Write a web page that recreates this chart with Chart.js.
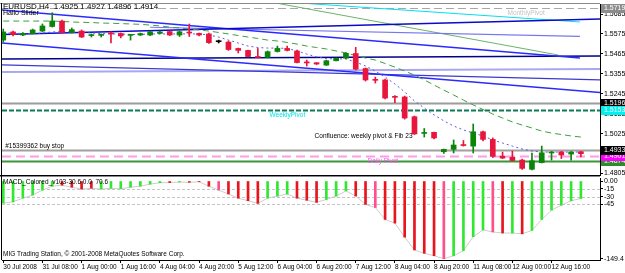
<!DOCTYPE html>
<html>
<head>
<meta charset="utf-8">
<script src="https://cdn.jsdelivr.net/npm/chart.js@4.4.0/dist/chart.umd.min.js"></script>
<style>
  html, body { margin: 0; padding: 0; background: #fff; }
  #wrap { position: relative; width: 625px; height: 273px; overflow: hidden; }
  canvas { position: absolute; left: 0; }
  #price { top: 0; }
  #macd { top: 177px; }
</style>
</head>
<body>
<div id="wrap">
  <canvas id="price" width="625" height="177"></canvas>
  <canvas id="macd" width="625" height="96"></canvas>
</div>
<script>
// EURUSD H4 candles, 60 bars (30 Jul .. 12 Aug 2008)
const opens = [1.5541,1.5586,1.5569,1.5577,1.5591,1.5616,1.5646,1.5583,1.5591,1.5566,
  1.5567,1.5577,1.5577,1.5567,1.5569,1.5569,1.5578,1.5588,1.5569,1.5584,
  1.5578,1.5575,1.5532,1.5530,1.5495,1.5484,1.5448,1.5446,1.5478,1.5495,
  1.5481,1.5417,1.5416,1.5403,1.5427,1.5441,1.5467,1.5384,1.5322,1.5321,
  1.5228,1.5227,1.5118,1.5026,1.5032,1.4925,1.4938,1.4962,1.4956,1.5035,
  1.4993,1.4901,1.4894,1.4879,1.4828,1.4865,1.4918,1.4924,1.4912,1.4925];
const highs = [1.5602,1.5591,1.5583,1.5602,1.5630,1.5692,1.5652,1.5608,1.5597,1.5575,
  1.5575,1.5586,1.5580,1.5572,1.5580,1.5591,1.5591,1.5591,1.5591,1.5630,
  1.5580,1.5580,1.5541,1.5536,1.5497,1.5486,1.5495,1.5481,1.5508,1.5508,
  1.5486,1.5431,1.5417,1.5431,1.5442,1.5472,1.5501,1.5387,1.5337,1.5326,
  1.5235,1.5232,1.5122,1.5053,1.5034,1.4940,1.4990,1.4987,1.5078,1.5039,
  1.5001,1.4923,1.4929,1.4885,1.4918,1.4956,1.4926,1.4926,1.4926,1.4927];
const lows = [1.5530,1.5564,1.5566,1.5575,1.5588,1.5613,1.5580,1.5580,1.5555,1.5558,
  1.5558,1.5525,1.5553,1.5541,1.5566,1.5566,1.5575,1.5566,1.5561,1.5561,
  1.5564,1.5522,1.5525,1.5484,1.5470,1.5448,1.5442,1.5442,1.5475,1.5481,
  1.5415,1.5398,1.5406,1.5401,1.5426,1.5439,1.5376,1.5315,1.5304,1.5216,
  1.5195,1.5105,1.5020,1.5006,1.4995,1.4915,1.4918,1.4956,1.4918,1.4984,
  1.4893,1.4887,1.4874,1.4827,1.4824,1.4863,1.4879,1.4887,1.4879,1.4896];
const closes = [1.5586,1.5572,1.5577,1.5597,1.5619,1.5646,1.5583,1.5599,1.5558,1.5569,
  1.5570,1.5575,1.5564,1.5570,1.5577,1.5587,1.5586,1.5569,1.5587,1.5580,
  1.5569,1.5527,1.5532,1.5489,1.5484,1.5450,1.5445,1.5477,1.5495,1.5484,
  1.5417,1.5415,1.5409,1.5427,1.5441,1.5468,1.5381,1.5321,1.5319,1.5221,
  1.5225,1.5111,1.5023,1.5029,1.5001,1.4938,1.4962,1.4959,1.5035,1.4993,
  1.4899,1.4890,1.4876,1.4833,1.4875,1.4919,1.4920,1.4907,1.4923,1.4914];

// moving averages
const fastMA = [1.5580,1.5580,1.5577,1.5577,1.5580,1.5586,1.5588,1.5586,1.5583,1.5580,
  1.5577,1.5575,1.5575,1.5572,1.5572,1.5575,1.5575,1.5575,1.5575,1.5575,
  1.5575,1.5569,1.5558,1.5541,1.5525,1.5508,1.5500,1.5497,1.5497,1.5495,
  1.5481,1.5464,1.5448,1.5439,1.5437,1.5437,1.5420,1.5398,1.5370,1.5337,
  1.5299,1.5255,1.5205,1.5166,1.5128,1.5095,1.5067,1.5045,1.5028,1.5012,
  1.4990,1.4973,1.4956,1.4940,1.4929,1.4923,1.4923,1.4923,1.4923,1.4923];
const slowMA = [1.5646,1.5646,1.5646,1.5646,1.5646,1.5646,1.5644,1.5641,1.5639,1.5638,
  1.5635,1.5634,1.5632,1.5630,1.5628,1.5624,1.5619,1.5613,1.5608,1.5602,
  1.5597,1.5591,1.5583,1.5575,1.5566,1.5558,1.5550,1.5541,1.5536,1.5528,
  1.5519,1.5508,1.5500,1.5492,1.5481,1.5470,1.5456,1.5442,1.5431,1.5412,
  1.5392,1.5370,1.5348,1.5321,1.5293,1.5265,1.5238,1.5210,1.5183,1.5158,
  1.5133,1.5111,1.5089,1.5072,1.5056,1.5039,1.5028,1.5020,1.5012,1.5006];

// trendlines: [bar1, price1, bar2, price2]
const trendLines = [
  [-0.13, 1.5572, 60.95, 1.5657],
  [-0.13, 1.5707, 58.9, 1.5442],
  [-0.13, 1.5525, 60.95, 1.5252],
  [-0.13, 1.5437, 60.95, 1.5453],
  [-0.13, 1.5404, 60.95, 1.5321],
  [-0.13, 1.5365, 60.95, 1.5381],
  [15, 1.5612, 58.9, 1.5561],
  [27.2, 1.5757, 58.9, 1.5641],
  [26.7, 1.5757, 56.66, 1.5459]
];
const trendStyles = [
  { color: '#0a0ac8', width: 1.5 },
  { color: '#2a2aff', width: 1.5 },
  { color: '#2a2aff', width: 1.5 },
  { color: '#00008b', width: 1.5 },
  { color: '#3a3ad0', width: 1.2 },
  { color: '#a8a8f0', width: 2 },
  { color: '#7676f0', width: 1.2 },
  { color: '#00e0f0', width: 1 },
  { color: '#6ab46a', width: 1 }
];

// horizontal levels
const levelPrices = [1.5719, 1.5196, 1.5153, 1.4933, 1.4901, 1.4874];
const levelNames = ['MonthlyPivot', '', 'WeeklyPivot', '#15399362 buy stop', 'Daily Pivot', ''];
const levelNameBars = [51.5, 0, 27.2, 0.2, 37.2, 0];
const levelStyles = [
  { line: '#a8a8a8', width: 1, dash: [8, 4], box: '#8c8c8c', boxText: '#fff', text: '#c4c4c4', below: true },
  { line: '#9c9c9c', width: 2, dash: [], box: '#000', boxText: '#fff' },
  { line: '#0b7a55', width: 2, dash: [5, 2], box: '#00f0f0', boxText: '#fff', text: '#00e4f0', below: true },
  { line: '#a0a0a0', width: 2, dash: [], box: '#000', boxText: '#fff', text: '#000', below: false },
  { line: '#ff9ce8', width: 2, dash: [9, 5], box: '#ff00ff', boxText: '#fff', text: '#ff50ee', below: true },
  { line: '#3a963a', width: 2, dash: [], box: '#2e8b2e', boxText: '#fff' }
];
const noteText = 'Confluence: weekly pivot & Fib 23';
const notePos = [31.8, 1.5012];

const priceTicks = [1.5685, 1.5575, 1.5465, 1.5355, 1.5245, 1.5135, 1.5025, 1.4915, 1.4805];
const timeTickBars = [0, 4, 8, 12, 16, 20, 24, 28, 32, 36, 40, 44, 48, 52, 56];
const timeLabels = ['30 Jul 2008', '31 Jul 08:00', '1 Aug 00:00', '1 Aug 16:00', '4 Aug 04:00',
  '4 Aug 20:00', '5 Aug 12:00', '6 Aug 04:00', '6 Aug 20:00', '7 Aug 12:00', '8 Aug 04:00',
  '8 Aug 20:00', '11 Aug 08:00', '12 Aug 00:00', '12 Aug 16:00'];

// MACD histogram
const macdValues = [-42.7,-40,-33,-27,-17.5,-10,-8,-12,-15.5,-14,
  -15.5,-14,-15,-12,-10,-6,-3.3,-3,-2,-2.5,
  -1.5,-10,-17.5,-25,-33,-38,-43,-33,-29,-25,
  -33,-37,-41,-35.5,-29,-19,-29,-45,-51,-74,
  -81,-108,-132.6,-139,-143.7,-149.4,-143.7,-134,-107,-94,
  -98,-100,-100,-101.5,-95,-74,-56,-46.6,-38,-33.6];
const macdState = 'ggggggrrrrgggggggrgrrrprrrrgggrrrgggrrprrrrrrpggggprgrgggggg';
const macdTicks = [0, -15, -30, -45, -149.4];
const macdLevels = [-15, -30, -45];

const FONT = 'Liberation Sans, Arial, sans-serif';
const xMin = -0.13, xMax = 60.95;
const bars = opens.map((_, i) => i);
const candleColor = bars.map(i => closes[i] > opens[i] ? '#0a850a' : (closes[i] < opens[i] ? '#e8163c' : '#000000'));
const macdColor = { g: '#2fe82f', r: '#e8141e', p: '#ff4f8c' };

const priceDecor = {
  id: 'priceDecor',
  beforeDatasetsDraw(chart) {
    const { ctx, chartArea: a, scales: { y } } = chart;
    ctx.save();
    levelPrices.forEach((p, i) => {
      const st = levelStyles[i];
      const py = Math.round(y.getPixelForValue(p)) + 0.5;
      ctx.strokeStyle = st.line;
      ctx.lineWidth = st.width;
      ctx.setLineDash(st.dash);
      ctx.beginPath();
      ctx.moveTo(a.left, py);
      ctx.lineTo(a.right, py);
      ctx.stroke();
    });
    ctx.restore();
  },
  afterDraw(chart) {
    const { ctx, chartArea: a, scales: { x, y } } = chart;
    ctx.save();
    ctx.textBaseline = 'middle';
    // level names
    ctx.font = '6.5px ' + FONT;
    levelPrices.forEach((p, i) => {
      if (!levelNames[i]) return;
      const st = levelStyles[i];
      const py = y.getPixelForValue(p);
      ctx.fillStyle = st.text;
      ctx.textAlign = 'left';
      ctx.fillText(levelNames[i], x.getPixelForValue(levelNameBars[i]), st.below ? py + 5 : py - 4);
    });
    ctx.fillStyle = '#000';
    ctx.fillText(noteText, x.getPixelForValue(notePos[0]), y.getPixelForValue(notePos[1]));
    // price boxes on the axis
    ctx.font = '7px ' + FONT;
    [5, 4, 0, 1, 2, 3].forEach(i => {
      const st = levelStyles[i];
      const py = Math.round(y.getPixelForValue(levelPrices[i]));
      ctx.fillStyle = st.box;
      ctx.fillRect(a.right + 1, py - 4, 25, 9);
      ctx.fillStyle = st.boxText;
      ctx.fillText(levelPrices[i].toFixed(4), a.right + 4, py + 0.5);
    });
    // title
    ctx.fillStyle = '#000';
    ctx.font = '8px ' + FONT;
    ctx.fillText('EURUSD,H4  1.4925 1.4927 1.4896 1.4914', 3, 6.5);
    ctx.font = '7px ' + FONT;
    ctx.fillText('Hallo Slider', 3, 13);
    // frame
    ctx.strokeStyle = '#8a8a8a';
    ctx.lineWidth = 1;
    ctx.beginPath();
    ctx.moveTo(0, 3.5); ctx.lineTo(a.right, 3.5);
    ctx.moveTo(0, 176.5); ctx.lineTo(a.right, 176.5);
    ctx.stroke();
    ctx.strokeStyle = '#000';
    ctx.beginPath();
    ctx.moveTo(1.5, 3); ctx.lineTo(1.5, 177);
    ctx.moveTo(0, 175.5); ctx.lineTo(a.right + 1, 175.5);
    ctx.stroke();
    ctx.restore();
  }
};

const lineSet = (data, color, width, dash) => ({
  type: 'line', data, borderColor: color, borderWidth: width, borderDash: dash,
  pointRadius: 0, tension: 0, order: 5
});

const priceSets = [
  { type: 'bar', data: bars.map(i => ({ x: i, y: [Math.min(opens[i], closes[i]), Math.max(opens[i], closes[i])] })),
    backgroundColor: candleColor, barThickness: 5, minBarLength: 1, grouped: false, order: 0 },
  { type: 'bar', data: bars.map(i => ({ x: i, y: [lows[i], highs[i]] })),
    backgroundColor: candleColor, barThickness: 1, grouped: false, order: 1 },
  lineSet(bars.map(i => ({ x: i, y: fastMA[i] })), '#5a5ae6', 1, [2, 3]),
  lineSet(bars.map(i => ({ x: i, y: slowMA[i] })), '#3f9f3f', 1, [6, 4])
];
trendLines.forEach((t, i) => {
  priceSets.push(lineSet([{ x: t[0], y: t[1] }, { x: t[2], y: t[3] }], trendStyles[i].color, trendStyles[i].width, []));
});

new Chart(document.getElementById('price'), {
  type: 'bar',
  data: { datasets: priceSets },
  options: {
    responsive: false, animation: false, devicePixelRatio: 1,
    layout: { padding: { left: 2, top: 4, right: 0, bottom: 2 } },
    plugins: { legend: { display: false }, tooltip: { enabled: false } },
    scales: {
      x: { type: 'linear', min: xMin, max: xMax, offset: false, display: false },
      y: {
        type: 'linear', position: 'right', min: 1.47965, max: 1.57402,
        afterFit(s) { s.width = 25; s.paddingTop = 0; s.paddingBottom = 0; },
        afterBuildTicks(s) { s.ticks = priceTicks.map(v => ({ value: v })); },
        ticks: { callback: v => v.toFixed(4), font: { family: FONT, size: 7, lineHeight: 1 }, color: '#000', padding: 1, autoSkip: false },
        grid: { drawOnChartArea: false, drawTicks: true, tickLength: 3, color: '#000' },
        border: { display: true, color: '#000' }
      }
    }
  },
  plugins: [priceDecor]
});

const macdDecor = {
  id: 'macdDecor',
  beforeDatasetsDraw(chart) {
    const { ctx, chartArea: a, scales: { y } } = chart;
    ctx.save();
    ctx.strokeStyle = '#c4c4c4';
    ctx.lineWidth = 1;
    ctx.setLineDash([3, 2]);
    macdLevels.forEach(v => {
      const py = Math.round(y.getPixelForValue(v)) + 0.5;
      ctx.beginPath();
      ctx.moveTo(a.left, py);
      ctx.lineTo(a.right, py);
      ctx.stroke();
    });
    ctx.restore();
  },
  afterDraw(chart) {
    const { ctx, chartArea: a } = chart;
    ctx.save();
    ctx.fillStyle = '#000';
    ctx.textBaseline = 'middle';
    ctx.font = '6.5px ' + FONT;
    ctx.fillText('MACD_Colored_v103-30.6 0.0  70.6', 3, 5);
    ctx.fillText('MIG Trading Station, \u00a9 2001-2008 MetaQuotes Software Corp.', 3, 77);
    ctx.strokeStyle = '#000';
    ctx.lineWidth = 1;
    ctx.beginPath();
    ctx.moveTo(1.5, 0); ctx.lineTo(1.5, a.bottom);
    ctx.stroke();
    ctx.restore();
  }
};

new Chart(document.getElementById('macd'), {
  type: 'bar',
  data: {
    datasets: [
      { type: 'bar', data: bars.map(i => ({ x: i, y: macdValues[i] })),
        backgroundColor: bars.map(i => macdColor[macdState[i]]), barThickness: 2, order: 0 },
      { type: 'line', data: bars.map(i => ({ x: i, y: macdValues[i] })),
        borderColor: '#cdcdcd', borderWidth: 1, pointRadius: 0, tension: 0, order: 1 }
    ]
  },
  options: {
    responsive: false, animation: false, devicePixelRatio: 1,
    layout: { padding: { left: 2, top: 1, right: 0, bottom: 0 } },
    plugins: { legend: { display: false }, tooltip: { enabled: false } },
    scales: {
      x: {
        type: 'linear', min: xMin, max: xMax, offset: false,
        afterFit(s) { s.height = 13; s.paddingLeft = 0; s.paddingRight = 0; },
        afterBuildTicks(s) { s.ticks = timeTickBars.map(v => ({ value: v })); },
        ticks: { callback: (v, i) => timeLabels[i], align: 'start', autoSkip: false, maxRotation: 0,
          font: { family: FONT, size: 6.5, lineHeight: 1 }, color: '#000', padding: 1 },
        grid: { drawOnChartArea: false, drawTicks: true, tickLength: 3, color: '#000', offset: false },
        border: { display: true, color: '#000' }
      },
      y: {
        type: 'linear', position: 'right', min: -151.9, max: 5.77,
        afterFit(s) { s.width = 25; s.paddingTop = 0; s.paddingBottom = 0; },
        afterBuildTicks(s) { s.ticks = macdTicks.map(v => ({ value: v })); },
        ticks: { callback: v => v === 0 ? '0.00' : String(v), font: { family: FONT, size: 7, lineHeight: 1 },
          color: '#000', padding: 1, autoSkip: false },
        grid: { drawOnChartArea: false, drawTicks: true, tickLength: 3, color: '#000' },
        border: { display: true, color: '#000' }
      }
    }
  },
  plugins: [macdDecor]
});
</script>
</body>
</html>
